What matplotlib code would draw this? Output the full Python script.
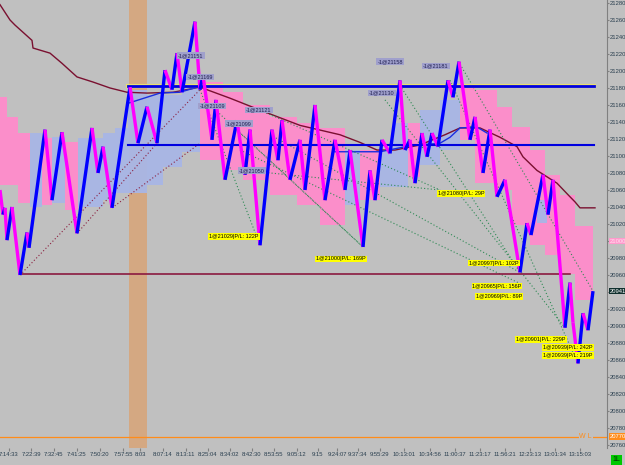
import matplotlib
matplotlib.use("Agg")
import matplotlib.pyplot as plt
import matplotlib.transforms as mtransforms

plt.rcParams['font.family'] = ['Liberation Sans', 'DejaVu Sans']

#%% Data (x = bar index, y = price)
swing_x = [0, 3, 5, 7, 12, 20, 27, 29, 45, 52, 62, 77, 92, 98, 103, 112, 130, 138, 147, 157,
           165, 172, 177, 182, 195, 200, 203, 212, 216, 225, 237, 245, 250, 260, 272, 278, 282,
           290, 300, 305, 315, 325, 335, 345, 350, 363, 370, 375, 382, 390, 400, 405, 410, 415,
           422, 427, 432, 438, 448, 453, 459, 470, 475, 483, 490, 497, 505, 520, 527, 531, 543,
           548, 553, 565, 570, 573, 578, 583, 588, 593]
swing_p = [21060, 21031, 21039, 21001, 21040, 20960, 21010, 20992, 21131, 21048, 21128, 21009,
           21133, 21080, 21111, 21039, 21181, 21115, 21158, 21115, 21201, 21178, 21221, 21175,
           21258, 21178, 21195, 21119, 21166, 21072, 21142, 21078, 21131, 20995, 21131, 21095,
           21142, 21072, 21119, 21060, 21160, 21048, 21119, 21060, 21107, 20993, 21083, 21048,
           21119, 21103, 21189, 21107, 21119, 21068, 21127, 21099, 21127, 21111, 21189, 21169,
           21211, 21119, 21146, 21080, 21131, 21052, 21072, 20963, 21021, 21007, 21078, 21031,
           21072, 20898, 20951, 20904, 20856, 20915, 20895, 20941]

ma_slow_x = [0, 10, 15, 32, 33, 50, 62, 77, 93, 110, 127, 147, 173, 200, 230, 260, 300, 340,
             360, 377, 395, 420, 445, 460, 480, 500, 517, 523, 537, 557, 570, 575, 580, 595]
ma_slow_p = [21278, 21260, 21254, 21236, 21227, 21221, 21209, 21193, 21187, 21180, 21175, 21174,
             21175, 21181, 21168, 21154, 21136, 21125, 21116, 21107, 21107, 21113, 21125, 21133,
             21133, 21122, 21111, 21099, 21083, 21068, 21052, 21046, 21039, 21039]

ma_fast1_x = [128, 160, 180, 200]
ma_fast1_p = [21162, 21174, 21175, 21182]
ma_fast2_x = [335, 380, 410, 440, 450, 460, 477, 487]
ma_fast2_p = [21105, 21105, 21112, 21115, 21122, 21133, 21134, 21127]

# cloud blocks: start bar, end bar, upper price, lower price, side
cloud_x0 = [0, 7, 18, 30, 42, 52, 65, 78, 103, 115, 128, 147, 163, 182, 200, 223, 243, 270, 297,
            320, 345, 360, 380, 393, 408, 420, 440, 460, 475, 497, 512, 530, 545, 560, 575, 537]
cloud_x1 = [7, 18, 30, 42, 52, 65, 78, 103, 115, 128, 147, 163, 182, 200, 223, 243, 270, 297, 320,
            345, 360, 380, 393, 408, 420, 440, 460, 475, 497, 512, 530, 545, 560, 575, 593, 547]
cloud_hi = [21169, 21146, 21127, 21127, 21121, 21122, 21116, 21121, 21127, 21133, 21178, 21172,
            21172, 21180, 21187, 21175, 21160, 21146, 21139, 21133, 21107, 21107, 21107, 21139,
            21139, 21154, 21166, 21181, 21178, 21158, 21134, 21107, 21078, 21054, 21018, 21048]
cloud_lo = [21066, 21066, 21045, 21040, 21042, 21045, 21036, 21040, 21048, 21056, 21056, 21066,
            21087, 21105, 21095, 21084, 21072, 21054, 21042, 21019, 21042, 21048, 21063, 21063,
            21075, 21089, 21107, 21119, 21068, 21060, 21019, 20995, 20984, 20961, 20931, 21021]
cloud_side = ['s', 's', 's', 'l', 's', 'l', 's', 'l', 'l', 'l', 'l', 'l', 'l', 'l', 's', 's', 's',
              's', 's', 's', 'l', 's', 'l', 'l', 's', 'l', 'l', 's', 's', 's', 's', 's', 's', 's',
              's', 'l']

level_hi = 21182
level_mid = 21113
level_lo = 20961
level_wl = 20770
last_price = 20941
cloud_edge = 21000

# long trades (entry -> exit), short trades (entry -> exit)
long_lines = [((20, 20960), (200, 21178)), ((77, 21009), (157, 21115)), ((112, 21039), (200, 21115))]
short_lines = [((200, 21178), (260, 20995)), ((212, 21158), (363, 20993)),
               ((230, 21138), (363, 20993)), ((260, 21154), (440, 21060)),
               ((245, 21083), (440, 21060)), ((270, 21125), (520, 20963)),
               ((240, 21107), (520, 20950)), ((400, 21183), (520, 20963)),
               ((385, 21166), (565, 20898)), ((450, 21189), (578, 20856)),
               ((460, 21208), (593, 20941))]

short_labels = ['-1@21151', '-1@21169', '-1@21109', '-1@21099', '-1@21121', '-1@21050',
                '-1@21158', '-1@21130', '-1@21181']
short_lab_x = [191, 200, 212, 239, 259, 252, 390, 382, 436]
short_lab_p = [21218, 21193, 21159, 21138, 21154, 21083, 21211, 21174, 21206]

long_labels = ['1@21029|P/L: 122P', '1@21000|P/L: 169P', '1@21080|P/L: 29P', '1@20997|P/L: 102P',
               '1@20965|P/L: 156P', '1@20969|P/L: 89P', '1@20901|P/L: 229P',
               '1@20939|P/L: 242P', '1@20939|P/L: 219P']
long_lab_x = [234, 341, 461, 494, 497, 499, 541, 568, 568]
long_lab_p = [21005, 20979, 21056, 20974, 20947, 20935, 20884, 20875, 20865]

time_pos = [9, 31, 54, 77, 100, 123, 140, 163, 186, 208, 230, 252, 274, 297, 318, 337, 358, 380,
            404, 430, 455, 480, 505, 530, 555, 580]
time_labels = ['7:14:33', '7:22:39', '7:32:45', '7:41:25', '7:50:20', '7:57:55', '8:03', '8:07:14',
               '8:13:11', '8:25:04', '8:34:02', '8:42:30', '8:53:55', '9:05:12', '9:15', '9:24:07',
               '9:37:34', '9:55:29', '10:13:01', '10:34:56', '11:00:37', '11:23:17', '11:56:21',
               '12:23:13', '13:01:34', '13:15:03']

session_start = 129
session_end = 147

#%% Plot
bg = '#c0c0c0'
fig = plt.figure(figsize=(6.25, 4.65), dpi=100, facecolor=bg)
ax = fig.add_axes([0, 1 - 448 / 465, 607 / 625, 448 / 465])
ax.set_facecolor(bg)
ax.set_xlim(0, 607)
ax.set_ylim(20756.5, 21283.5)

ax.axvspan(session_start, session_end, color='#e69650', alpha=0.55, lw=0, zorder=1)

for x0, x1, hi, lo, side in zip(cloud_x0, cloud_x1, cloud_hi, cloud_lo, cloud_side):
    c = '#ff8ccb' if side == 's' else '#a8b6e6'
    ax.fill_between([x0, x1], [lo, lo], [hi, hi], color=c, lw=0, zorder=2, alpha=0.95)

ax.plot(ma_slow_x, ma_slow_p, color='#7a1030', lw=1.0, zorder=3)
ax.plot(ma_fast1_x, ma_fast1_p, color='#1a2ee0', lw=1.0, zorder=3)
ax.plot(ma_fast2_x, ma_fast2_p, color='#1a2ee0', lw=1.0, zorder=3)

for (a, b) in long_lines:
    ax.plot([a[0], b[0]], [a[1], b[1]], color='#8b2040', lw=0.8, ls=(0, (1, 2)), zorder=4)
for (a, b) in short_lines:
    ax.plot([a[0], b[0]], [a[1], b[1]], color='#2f8a55', lw=0.8, ls=(0, (1, 2)), zorder=4)

ax.plot([128, 594], [level_hi, level_hi], color='#e8e070', lw=3.0, zorder=5)
ax.plot([128, 594], [level_hi, level_hi], color='#0000e0', lw=2.0, zorder=5)
ax.plot([128, 594], [level_mid, level_mid], color='#0000e0', lw=1.5, zorder=5)
ax.plot([20, 570], [level_lo, level_lo], color='#8b1a40', lw=1.2, zorder=5)
ax.axhline(level_wl, color='#ff8c1a', lw=0.9, zorder=5)
ax.text(592, level_wl, 'W L', color='#ff8c1a', fontsize=5, ha='right', va='center', zorder=6,
        bbox=dict(facecolor=bg, edgecolor='none', pad=0.5))

# price legs
for i in range(len(swing_x) - 1):
    up = swing_p[i + 1] > swing_p[i]
    ax.plot(swing_x[i:i + 2], swing_p[i:i + 2], color='#0000ff' if up else '#ff00ff',
            lw=2.4, solid_capstyle='butt', zorder=7)

for t, x, p in zip(short_labels, short_lab_x, short_lab_p):
    ax.text(x, p, t, fontsize=4, color='#202050', ha='center', va='center', zorder=9,
            bbox=dict(facecolor='#a0a0cc', edgecolor='none', pad=0.6))
for t, x, p in zip(long_labels, long_lab_x, long_lab_p):
    ax.text(x, p, t, fontsize=4, color='black', ha='center', va='center', zorder=9,
            bbox=dict(facecolor='#ffff00', edgecolor='none', pad=0.6))

# axes
for s in ['top', 'left', 'bottom']:
    ax.spines[s].set_visible(False)
ax.spines['right'].set_color('#808080')
ax.spines['right'].set_linewidth(0.8)
ax.yaxis.tick_right()
ax.set_yticks(range(20760, 21281, 20))
ax.tick_params(axis='y', labelsize=4.2, colors='#808080', labelcolor='#2a3f4f', length=1.5, pad=0.5)
ax.set_xticks(time_pos)
ax.set_xticklabels(time_labels)
ax.tick_params(axis='x', labelsize=4.2, colors='#808080', labelcolor='#2a3f4f', length=2, pad=1)

trans = mtransforms.blended_transform_factory(ax.transAxes, ax.transData)
for val, fc, tc in [(cloud_edge, '#ff99cc', '#ffe0f0'), (last_price, '#10302e', 'white'),
                    (level_wl, '#ff8c1a', 'white')]:
    ax.text(1.004, val, str(val), transform=trans, fontsize=4.2, color=tc, ha='left', va='center',
            zorder=10, clip_on=False, bbox=dict(facecolor=fc, edgecolor='none', pad=0.6))

fig.text(0.993, 0.004, '1L', fontsize=5, color='#003000', ha='right', va='bottom',
         bbox=dict(facecolor='#00c800', edgecolor='none', pad=1.0))

fig.savefig('out.png', dpi=100, facecolor=bg)
